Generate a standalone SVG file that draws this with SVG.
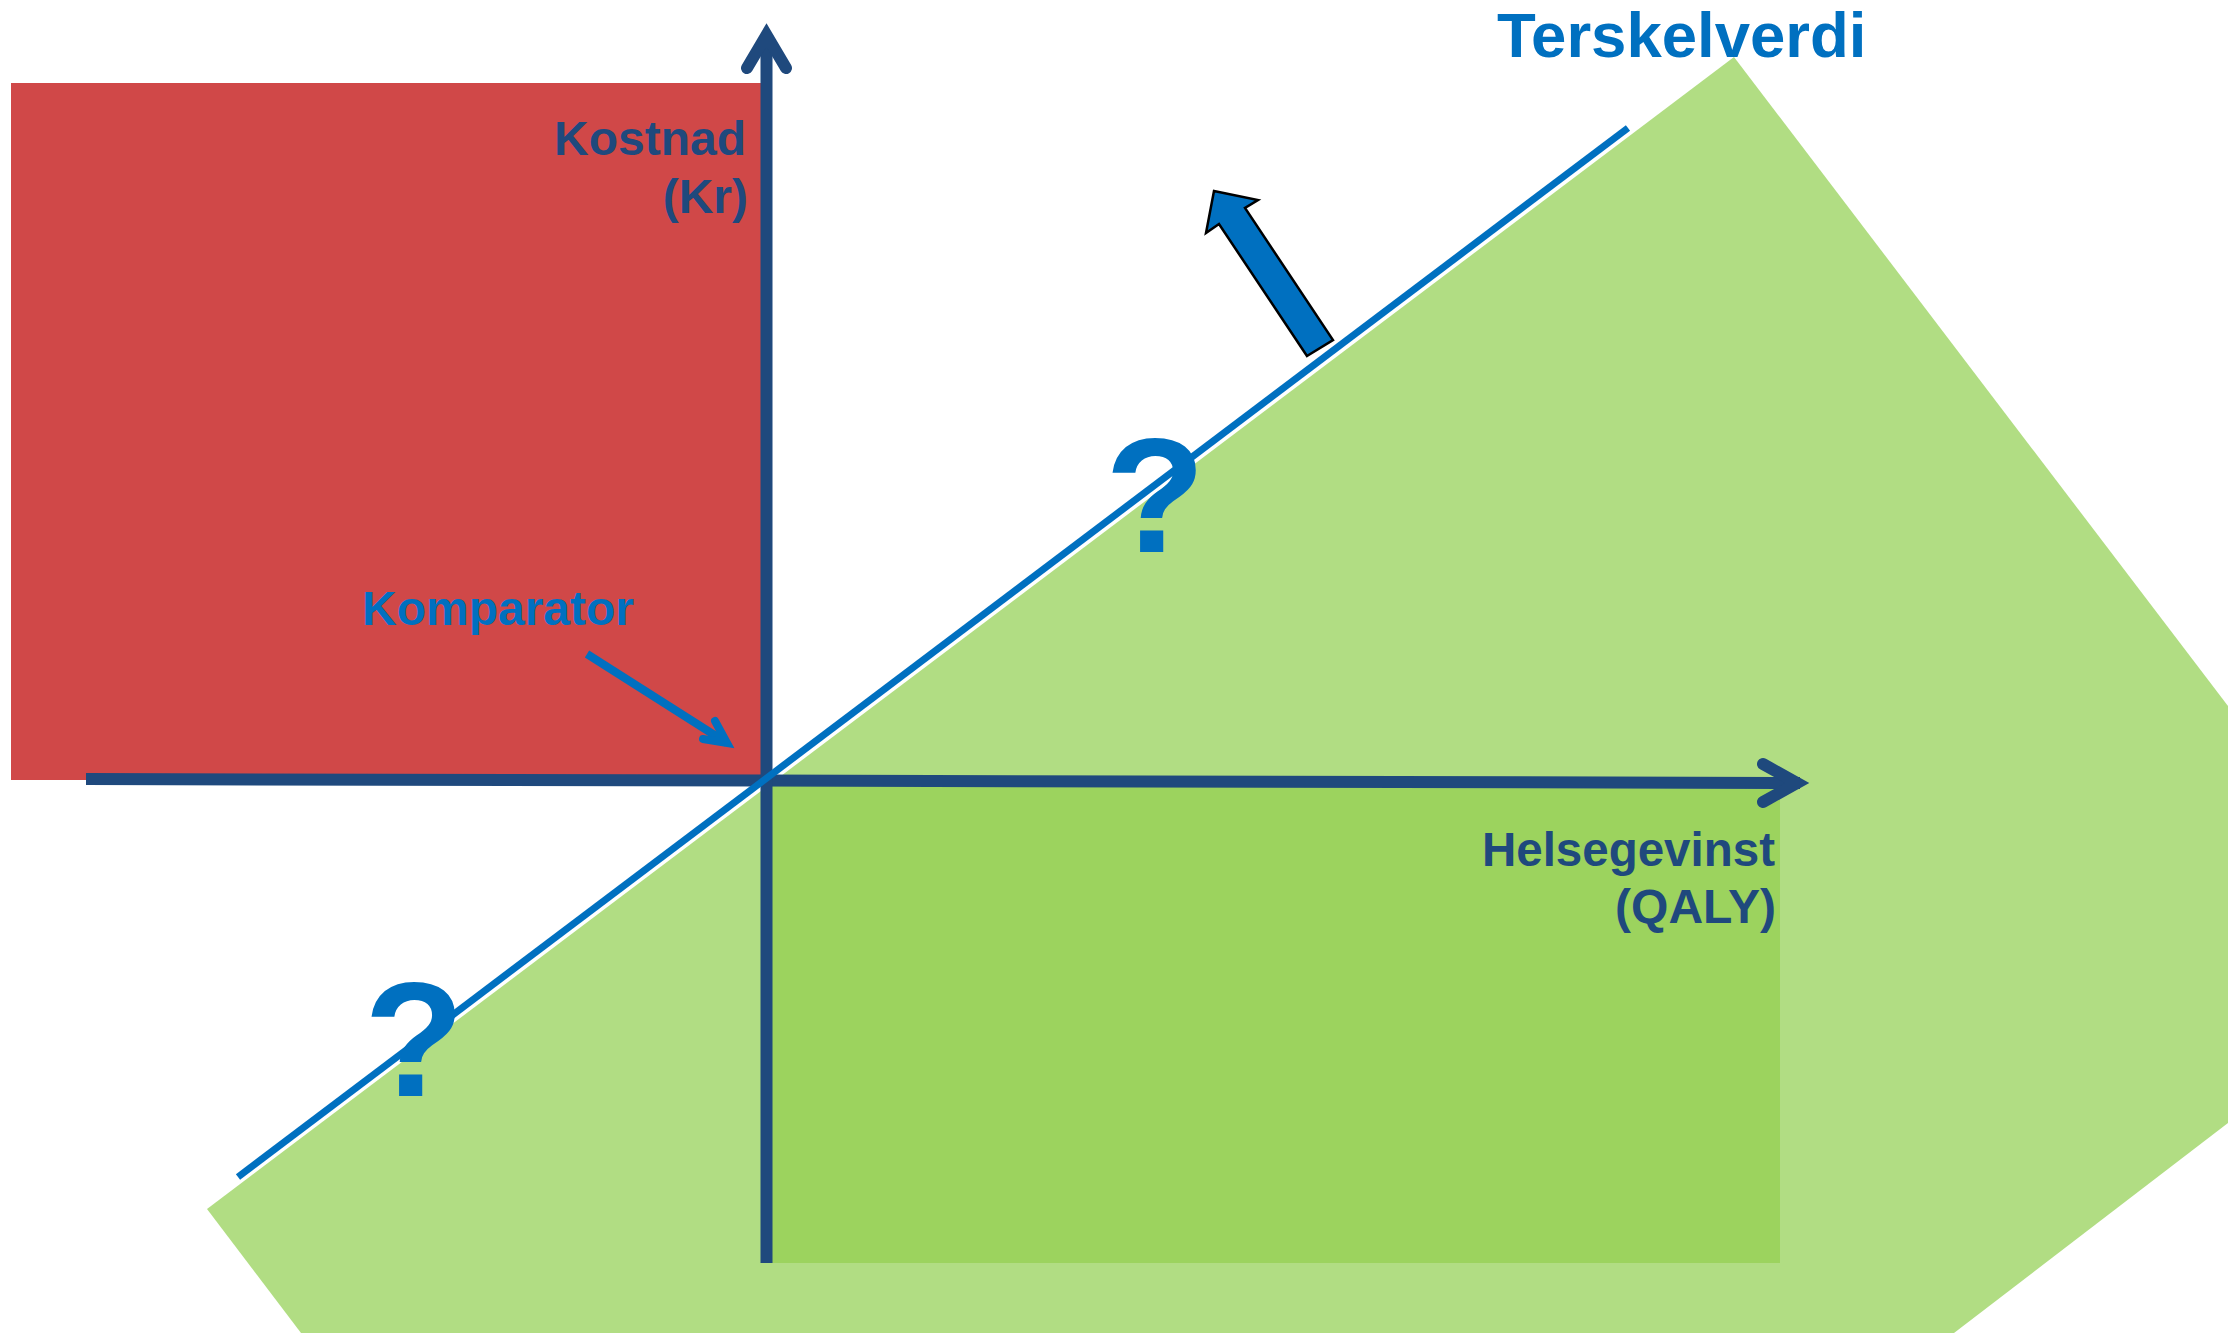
<svg xmlns="http://www.w3.org/2000/svg" width="2228" height="1333" viewBox="0 0 2228 1333">
<style>
.lbl{font-family:"Liberation Sans",Arial,sans-serif;font-weight:bold;font-size:48px}
.ax{fill:#1F497D}
.bl{fill:#0070C0}
.axis{stroke:#1F497D;stroke-width:12;fill:none}
.head{stroke:#1F497D;stroke-width:12;fill:none;stroke-linecap:round;stroke-linejoin:miter;stroke-miterlimit:10}
.q{font-family:"Liberation Sans",Arial,sans-serif;font-weight:bold;font-size:164px;fill:#0070C0;text-anchor:middle}
</style>
<rect width="2228" height="1333" fill="#FFFFFF"/>
<g id="region-accept">
<polygon points="207,1209 1734,57 2228,706 2228,1123 1954,1333 301,1333" fill="#B1DD83"/>
</g>
<g id="region-dominant">
<rect x="766" y="783" width="1014" height="480" fill="#9CD35E"/>
</g>
<g id="region-dominated">
<rect x="11" y="83" width="750" height="697" fill="#D04848"/>
</g>
<g id="connectors">
<line x1="86" y1="779" x2="1800" y2="783" class="axis"/>
<polyline points="1763,764 1797,783 1763,802" class="head"/>
<line x1="766.5" y1="1263" x2="766.5" y2="40" class="axis"/>
<polyline points="747,68 766.5,35 786,68" class="head"/>
<line x1="238" y1="1177" x2="1628" y2="128" stroke="#0070C0" stroke-width="7"/>
<line x1="587" y1="654" x2="727" y2="743" stroke="#0070C0" stroke-width="8"/>
<polyline points="703,739 727,743 715,721" stroke="#0070C0" stroke-width="8" fill="none" stroke-linecap="round" stroke-linejoin="miter" stroke-miterlimit="10"/>
<polygon points="1307,356 1333,340 1245,208 1258,200 1214,191 1206,233 1219,224" fill="#0070C0" stroke="#000000" stroke-width="2.5" stroke-linejoin="miter"/>
</g>
<g id="label-threshold">
<text x="1497" y="57" class="lbl bl" style="font-size:63.5px">Terskelverdi</text>
</g>
<g id="label-cost">
<text x="746" y="155" class="lbl ax" text-anchor="end">Kostnad</text>
<text x="748" y="213" class="lbl ax" text-anchor="end">(Kr)</text>
</g>
<g id="label-comparator">
<text x="362" y="625" class="lbl bl">Komparator</text>
</g>
<g id="label-health">
<text x="1775" y="866" class="lbl ax" text-anchor="end" style="font-size:47.5px">Helsegevinst</text>
<text x="1776" y="923" class="lbl ax" text-anchor="end">(QALY)</text>
</g>
<g id="q-upper">
<text x="1155" y="552" class="q">?</text>
</g>
<g id="q-lower">
<text x="414" y="1096" class="q">?</text>
</g>
</svg>
